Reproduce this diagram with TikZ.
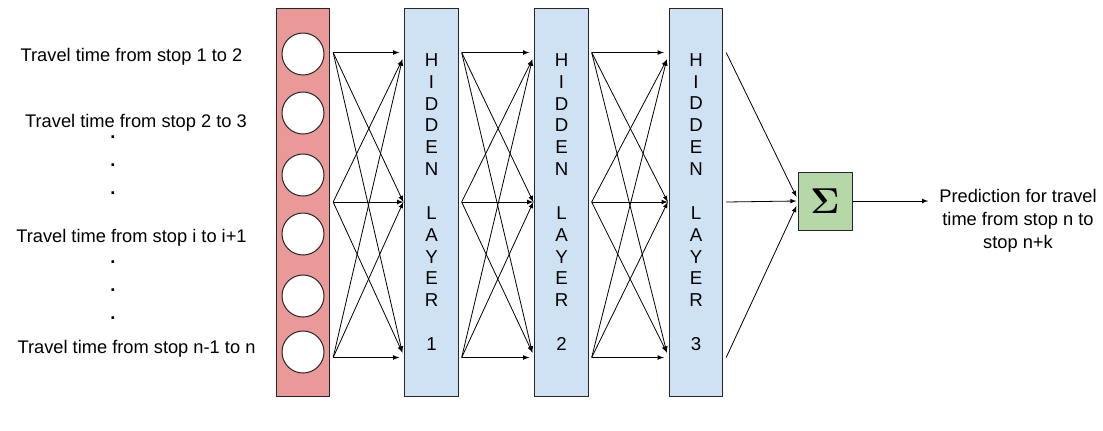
\documentclass[tikz,border=0pt]{standalone}
\usepackage{graphicx}
\usepackage[no-math]{fontspec}
\setmainfont{Liberation Sans}
\usetikzlibrary{arrows,calc}
\definecolor{inred}{HTML}{EA9999}
\definecolor{hidblue}{HTML}{CFE2F3}
\definecolor{sumgreen}{HTML}{B6D7A8}
\tikzset{
    layer/.style={draw=black!85, fill=#1, line width=0.75pt, minimum width=40pt, minimum height=291pt, inner sep=0pt, align=center, font=\fontsize{14}{16.4}\selectfont},
    unit/.style={draw=black!85, fill=white, circle, line width=0.75pt, minimum size=31.5pt, inner sep=0pt},
    feat/.style={anchor=base, inner sep=0pt, font=\fontsize{13.7}{16}\selectfont},
    gap/.style={font=\fontsize{13.7}{16}\selectfont\bfseries, inner sep=0pt}
}

\begin{document}
\begin{tikzpicture}[>=latex, x=0.75pt, y=-0.75pt, line width=0.6pt]
\useasboundingbox (0,0) rectangle (1103,430);
% input column
\node[layer=inred] (inp) at (303,202) {};
\foreach \y [count=\k] in {54,113,175,234,296,352}
    \node[unit] (u\k) at (303,\y) {};
% hidden layers
\foreach \x/\n in {431.5/1, 561.5/2, 696/3}
    \node[layer=hidblue] (hl\n) at (\x,202) {H\\I\\D\\D\\E\\N\\{}\\L\\A\\Y\\E\\R\\{}\\\n};
% ports on each column
\foreach \b in {inp,hl1,hl2,hl3} {
    \path
    ($(\b.north east)+(3,45)$) coordinate (\b-o1)
    ($(\b.east)+(3,0)$) coordinate (\b-o2)
    ($(\b.south east)+(3,-39)$) coordinate (\b-o3)
    ($(\b.north west)+(-5,45)$) coordinate (\b-h1)
    ($(\b.north west)+(-2,52)$) coordinate (\b-d1)
    ($(\b.west)+(-1,0)$) coordinate (\b-h2)
    ($(\b.west)+(-1,0)$) coordinate (\b-d2)
    ($(\b.south west)+(-5,-39)$) coordinate (\b-h3)
    ($(\b.south west)+(-2,-44)$) coordinate (\b-d3);
}
\foreach \a/\b in {inp/hl1, hl1/hl2, hl2/hl3} {
    \foreach \s/\t in {1/h1,1/d2,1/d3,2/d1,2/h2,2/d3,3/d1,3/d2,3/h3}
        \draw[->] (\a-o\s) -- (\b-\t);
}
% summation
\node[draw=black!85, fill=sumgreen, line width=0.75pt, minimum width=40.5pt, minimum height=43.5pt, inner sep=0pt] (sum) at (825,201) {\fontsize{20}{20}\selectfont\scalebox{1.3}{$\mathbf{\Sigma}$}};
\foreach \s/\dy in {1/-4, 2/0, 3/5}
    \draw[->] (hl3-o\s) -- ($(sum.west)+(-1,\dy)$);
\node[inner xsep=8pt, inner ysep=0pt, align=center, font=\fontsize{13.7}{17.25}\selectfont] (pred) at (1018,221) {Prediction for travel\\time from stop n to\\stop n+k};
\draw[->] (sum) -- (sum -| pred.west);
% input labels
\node[feat] (f1) at (131.5,61) {Travel time from stop 1 to 2};
\node[feat] (f2) at (136,127) {Travel time from stop 2 to 3};
\node[feat] (f3) at (131.5,242) {Travel time from stop i to i+1};
\node[feat] (f4) at (136.5,353) {Travel time from stop n-1 to n};
\foreach \y [count=\k] in {137,165,193,262,290,318}
    \node[gap] (dot\k) at (113,\y) {.};
\end{tikzpicture}
\end{document}
